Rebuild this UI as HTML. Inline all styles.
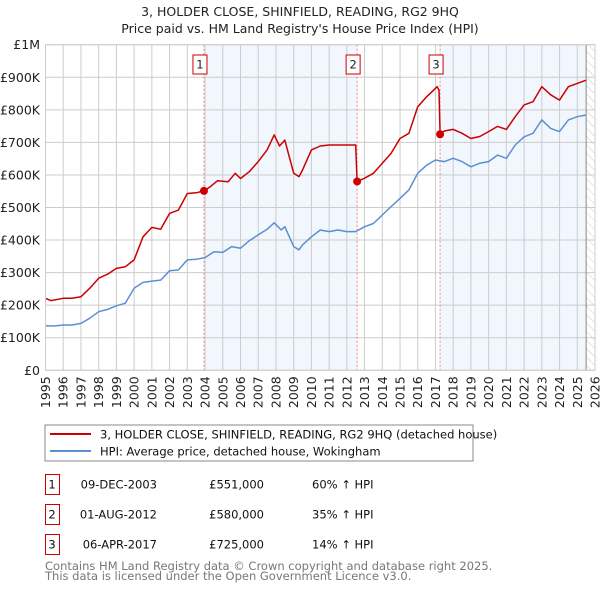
<!DOCTYPE html>
<html><head><meta charset="utf-8"><style>
body{margin:0;background:#fff;}
svg text{font-family:"DejaVu Sans","Liberation Sans",sans-serif;}
</style></head><body>
<svg id="c" width="600" height="590" xmlns="http://www.w3.org/2000/svg">
<text x="300" y="16" text-anchor="middle" font-size="12.5" fill="#222">3, HOLDER CLOSE, SHINFIELD, READING, RG2 9HQ</text>
<text x="300" y="33" text-anchor="middle" font-size="12.5" fill="#222">Price paid vs. HM Land Registry's House Price Index (HPI)</text>
<g id="plot"></g>
<rect x="45" y="425" width="428" height="36" fill="#fff" stroke="#888"/>
<line x1="50" y1="434" x2="91" y2="434" stroke="#cc0000" stroke-width="2"/>
<text x="100" y="438.5" font-size="11.5" fill="#111">3, HOLDER CLOSE, SHINFIELD, READING, RG2 9HQ (detached house)</text>
<line x1="50" y1="451" x2="91" y2="451" stroke="#5b8fd4" stroke-width="2"/>
<text x="100" y="455.5" font-size="11.5" fill="#111">HPI: Average price, detached house, Wokingham</text>
<g id="table" font-size="11.5" fill="#111"></g>
<text x="45" y="570" font-size="11.5" fill="#777">Contains HM Land Registry data © Crown copyright and database right 2025.</text>
<text x="45" y="580" font-size="11.5" fill="#777">This data is licensed under the Open Government Licence v3.0.</text>
</svg>
<script>
const hpiYears=[1995,1995.5,1996,1996.5,1997,1997.5,1998,1998.5,1999,1999.5,2000,2000.5,2001,2001.5,2002,2002.5,2003,2003.5,2004,2004.5,2005,2005.5,2006,2006.5,2007,2007.5,2007.9,2008.3,2008.5,2009,2009.3,2009.5,2010,2010.5,2011,2011.5,2012,2012.5,2013,2013.5,2014,2014.5,2015,2015.5,2016,2016.5,2017,2017.5,2018,2018.5,2019,2019.5,2020,2020.5,2021,2021.5,2022,2022.5,2023,2023.5,2024,2024.5,2025,2025.5];
const hpiValues=[137,136,139,139,144,160,180,187,198,206,252,270,274,277,306,308,339,341,346,364,362,380,375,398,416,433,453,431,441,380,370,385,410,431,426,431,426,426,441,451,477,503,528,554,605,630,646,641,651,641,625,636,641,661,651,692,717,728,769,743,733,769,779,784];
const priceYears=[1995,1995.3,1996,1996.5,1997,1997.5,1998,1998.5,1999,1999.5,2000,2000.5,2001,2001.5,2002,2002.5,2003,2003.5,2003.94,2004.3,2004.7,2005.3,2005.7,2006,2006.5,2007,2007.5,2007.9,2008.2,2008.5,2009,2009.3,2009.5,2010,2010.5,2011,2011.5,2012,2012.5,2012.58,2013,2013.5,2014,2014.5,2015,2015.5,2016,2016.5,2017.1,2017.2,2017.26,2017.5,2018,2018.5,2019,2019.5,2020,2020.5,2021,2021.5,2022,2022.5,2023,2023.5,2024,2024.5,2025,2025.5];
const priceValues=[221,214,221,221,226,252,283,295,313,318,339,410,439,433,482,492,543,545,551,564,582,579,605,589,610,641,677,723,689,707,605,595,615,677,689,692,692,692,692,580,590,605,636,667,712,728,809,840,871,860,725,735,740,728,712,718,733,749,740,779,815,825,871,846,830,871,881,891];
const saleYears=[2003.94,2012.58,2017.26];
const saleValues=[551,580,725];
const saleLabels=["1","2","3"];
const saleDates=["09-DEC-2003","01-AUG-2012","06-APR-2017"];
const salePrices=["£551,000","£580,000","£725,000"];
const saleHpi=["60% ↑ HPI","35% ↑ HPI","14% ↑ HPI"];
const yTicks=[0,100,200,300,400,500,600,700,800,900,1000];
const yTickLabels=["£0","£100K","£200K","£300K","£400K","£500K","£600K","£700K","£800K","£900K","£1M"];
const NS="http://www.w3.org/2000/svg";
const X0=45.5,X1=595,Y0=370.3,Y1=44.7;
const xs=y=>X0+(y-1995)/(2026-1995)*(X1-X0);
const ys=v=>Y0-v/1000*(Y0-Y1);
const g=document.getElementById('plot');
function mk(t,a,p){const e=document.createElementNS(NS,t);for(const k in a)e.setAttribute(k,a[k]);(p||g).appendChild(e);return e;}
let e;
e=mk('rect',{x:xs(saleYears[0]),y:Y1,width:xs(saleYears[1])-xs(saleYears[0]),height:Y0-Y1,fill:'#eef3fc',opacity:0.75});


e=mk('rect',{x:xs(saleYears[2]),y:Y1,width:xs(2025.5)-xs(saleYears[2]),height:Y0-Y1,fill:'#eef3fc',opacity:0.75});


const defs=mk('defs',{});
const pat=mk('pattern',{id:'h',width:6,height:6,patternUnits:'userSpaceOnUse',patternTransform:'rotate(-45)'},defs);
mk('line',{x1:0,y1:0,x2:0,y2:6,stroke:'#ccc','stroke-width':1},pat);
e=mk('rect',{x:xs(2025.5),y:Y1,width:X1-xs(2025.5),height:Y0-Y1,fill:'url(#h)'});


for(let yr=1995;yr<=2026;yr++){
 e=mk('line',{x1:xs(yr),x2:xs(yr),y1:Y1,y2:Y0,stroke:'#ccc','stroke-width':1});
 
 
 const t=mk('text',{x:0,y:0,'font-size':12.5,fill:'#222','text-anchor':'end',transform:`translate(${xs(yr)+4.5},${Y0+6}) rotate(-90)`});
 t.textContent=yr;
 
 
}
yTicks.forEach((v,i)=>{
 e=mk('line',{x1:X0,x2:X1,y1:ys(v),y2:ys(v),stroke:'#ccc','stroke-width':1});
 
 
 const t=mk('text',{x:40,y:ys(v)+4.5,'font-size':12.5,fill:'#222','text-anchor':'end'});
 t.textContent=yTickLabels[i];
 
 
});
e=mk('line',{x1:xs(2025.5),x2:xs(2025.5),y1:Y1,y2:Y0,stroke:'#888','stroke-width':1});


saleYears.forEach((yr,i)=>{
 e=mk('line',{x1:xs(yr),x2:xs(yr),y1:Y1,y2:Y0,stroke:'#e88','stroke-width':1,'stroke-dasharray':'2,2'});
 
 
 e=mk('rect',{x:xs(yr)-11,y:55,width:14,height:19,fill:'#fff',stroke:'#c00'});
 
 
 const t=mk('text',{x:xs(yr)-4,y:68.5,'font-size':11.5,fill:'#222','text-anchor':'middle'});
 t.textContent=saleLabels[i];
 
 
});
const path=(xa,va)=>xa.map((x,i)=>(i?'L':'M')+xs(x).toFixed(1)+','+ys(va[i]).toFixed(1)).join('');
e=mk('path',{d:path(hpiYears,hpiValues),fill:'none',stroke:'#5b8fd4','stroke-width':1.5,'stroke-linejoin':'round'});


e=mk('path',{d:path(priceYears,priceValues),fill:'none',stroke:'#cc0000','stroke-width':1.5,'stroke-linejoin':'round'});


saleYears.forEach((yr,i)=>{
 e=mk('circle',{cx:xs(yr),cy:ys(saleValues[i]),r:4,fill:'#cc0000'});
 
 
});
e=mk('rect',{x:X0,y:Y1,width:X1-X0,height:Y0-Y1,fill:'none',stroke:'#ccc'});


const tb=document.getElementById('table');
saleLabels.forEach((l,i)=>{
 const cy=484+i*30;
 e=mk('rect',{x:45.5,y:cy-9.5,width:14,height:20,fill:'#fff',stroke:'#c00'},tb);
 
 
 const cells=[[52,l,'middle'],[157,saleDates[i],'end'],[264,salePrices[i],'end'],[312,saleHpi[i],'start']];
 cells.forEach(c=>{const t=mk('text',{x:c[0],y:cy+4.5,'text-anchor':c[2]},tb);t.textContent=c[1];
  
  });
});
</script>
</body></html>
